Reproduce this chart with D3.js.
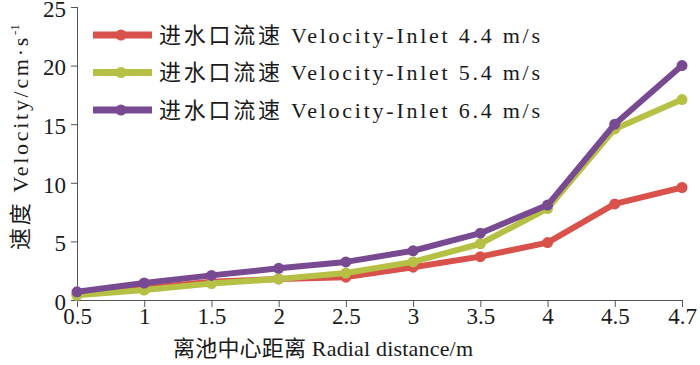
<!DOCTYPE html>
<html><head><meta charset="utf-8">
<script src="https://cdn.jsdelivr.net/npm/d3@7"></script>
<style>
body{margin:0;background:#fff;}
svg text{font-family:"Liberation Serif","Noto Sans CJK SC",serif;fill:#1a1a1a;}
</style></head>
<body><svg id="c" width="700" height="365"></svg>
<script>
const categories = ["0.5","1","1.5","2","2.5","3","3.5","4","4.5","4.7"];
const yTicks = [0,5,10,15,20,25];
const seriesNames = ["进水口流速 Velocity-Inlet 4.4 m/s","进水口流速 Velocity-Inlet 5.4 m/s","进水口流速 Velocity-Inlet 6.4 m/s"];
const inlet44 = [0.5, 1.0, 1.55, 1.8, 1.95, 2.8, 3.7, 4.9, 8.2, 9.6];
const inlet54 = [0.4, 0.85, 1.4, 1.8, 2.3, 3.25, 4.8, 7.8, 14.6, 17.1];
const inlet64 = [0.7, 1.45, 2.1, 2.7, 3.25, 4.2, 5.7, 8.1, 15.0, 20.0];
const colors = ["#d8514a","#b6c044","#774a91"];

const svg = d3.select("#c");
const L=77, R=682, T=7, B=300;
const x = d3.scalePoint().domain(categories).range([L,R]);
const y = d3.scaleLinear().domain([0,25]).range([B,T]);

const fs = 23;
const xa = svg.append("g").attr("transform",`translate(0,${B})`)
  .call(d3.axisBottom(x).tickSizeOuter(0).tickSize(7).tickPadding(1));
const ya = svg.append("g").attr("transform",`translate(${L},0)`)
  .call(d3.axisLeft(y).tickValues(yTicks).tickSizeOuter(0).tickSize(6).tickPadding(5));
[xa,ya].forEach(a=>{
  a.selectAll("path,line").attr("stroke","#555").attr("stroke-width",1);
  a.selectAll("text").attr("font-size",fs).style("font-family","Liberation Serif").attr("fill","#1a1a1a");
});
ya.selectAll("text").attr("dy","0.4em");
xa.select(".domain").attr("d",`M${L},0.5H${R}`);
ya.select(".domain").attr("d",`M0.5,${B}V${T}`);

const data = [inlet44, inlet54, inlet64];
const line = d3.line().x((d,i)=>x(categories[i])).y(d=>y(d));
data.forEach((s,k)=>{
  const g = svg.append("g");
  g.append("path").datum(s).attr("d",line).attr("fill","none")
    .attr("stroke",colors[k]).attr("stroke-width",6).attr("stroke-linejoin","round");
  g.selectAll("circle").data(s).join("circle")
    .attr("cx",(d,i)=>x(categories[i])).attr("cy",d=>y(d)).attr("r",5.5).attr("fill",colors[k]);
});

// legend
const leg = svg.append("g");
seriesNames.forEach((n,k)=>{
  const cy = 35 + k*37.5;
  leg.append("line").attr("x1",93).attr("x2",152).attr("y1",cy).attr("y2",cy)
    .attr("stroke",colors[k]).attr("stroke-width",7);
  leg.append("circle").attr("cx",121).attr("cy",cy).attr("r",5.5).attr("fill",colors[k]);
  leg.append("text").attr("x",159).attr("y",cy+7.5).attr("font-size",22)
    .attr("textLength",381).attr("lengthAdjust","spacing").text(n);
});

// axis titles
svg.append("text").attr("x",323).attr("y",356).attr("text-anchor","middle").attr("font-size",22)
  .attr("textLength",300).attr("lengthAdjust","spacing").text("离池中心距离 Radial distance/m");
const yt = svg.append("text").attr("transform","translate(28,250) rotate(-90)").attr("font-size",22);
const main = yt.append("tspan").text("速度 Velocity/cm·s");
const w = main.node().getComputedTextLength();
const n = "速度 Velocity/cm·s".length;
main.style("letter-spacing", ((215 - w)/n) + "px");
yt.append("tspan").attr("font-size",13).attr("dy",-9).text("-1");
</script></body></html>
